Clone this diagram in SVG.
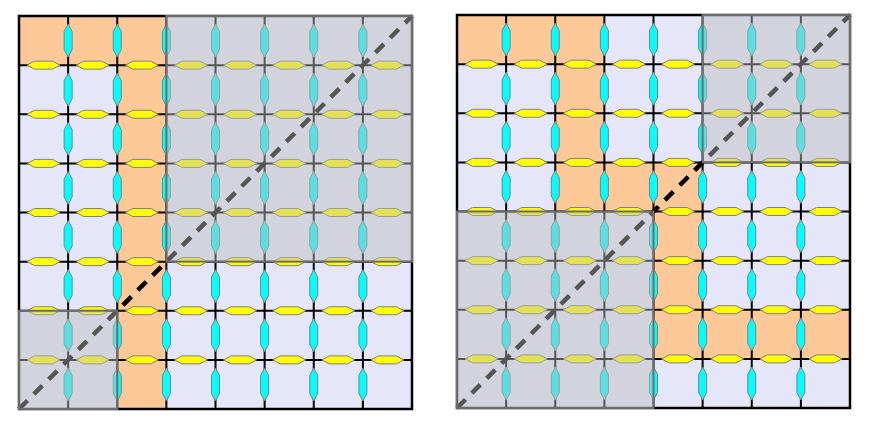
<svg xmlns="http://www.w3.org/2000/svg" xmlns:xlink="http://www.w3.org/1999/xlink" width="882" height="427" viewBox="0 0 882 427">
<style>
.bg{fill:#e6e6fa}
.or{fill:#fdc998}
.ln{stroke:#000;stroke-width:2;fill:none}
.bd{stroke:#000;stroke-width:2.5;fill:none}
.cy{fill:#00ffff;stroke:#808080;stroke-width:1}
.ye{fill:#ffff00;stroke:#808080;stroke-width:1}
.dg{stroke:#000;stroke-width:4.5;stroke-dasharray:12 9;fill:none}
.ov{fill:rgb(188,188,188);fill-opacity:0.45;stroke:#6c6c6c;stroke-width:2}
</style>
<defs>
<polygon id="hv" class="cy" points="0,-16.5 4,-9 4,9 0,16.5 -4,9 -4,-9"/>
<polygon id="hh" class="ye" points="-16.5,0 -9,-4 9,-4 16.5,0 9,4 -9,4"/>
<g id="col">
<use xlink:href="#hv" y="24.5625"/><use xlink:href="#hv" y="73.6875"/><use xlink:href="#hv" y="122.8125"/><use xlink:href="#hv" y="171.9375"/><use xlink:href="#hv" y="221.0625"/><use xlink:href="#hv" y="270.1875"/><use xlink:href="#hv" y="319.3125"/><use xlink:href="#hv" y="368.4375"/>
</g>
<g id="row">
<use xlink:href="#hh" x="24.5625"/><use xlink:href="#hh" x="73.6875"/><use xlink:href="#hh" x="122.8125"/><use xlink:href="#hh" x="171.9375"/><use xlink:href="#hh" x="221.0625"/><use xlink:href="#hh" x="270.1875"/><use xlink:href="#hh" x="319.3125"/><use xlink:href="#hh" x="368.4375"/>
</g>
<g id="net">
<path class="ln" d="M49.125 0V393M98.25 0V393M147.375 0V393M196.5 0V393M245.625 0V393M294.75 0V393M343.875 0V393M0 49.125H393M0 98.25H393M0 147.375H393M0 196.5H393M0 245.625H393M0 294.75H393M0 343.875H393"/>
<rect class="bd" x="0" y="0" width="393" height="393"/>
<use xlink:href="#col" x="49.125"/><use xlink:href="#col" x="98.25"/><use xlink:href="#col" x="147.375"/><use xlink:href="#col" x="196.5"/><use xlink:href="#col" x="245.625"/><use xlink:href="#col" x="294.75"/><use xlink:href="#col" x="343.875"/>
<use xlink:href="#row" y="49.125"/><use xlink:href="#row" y="98.25"/><use xlink:href="#row" y="147.375"/><use xlink:href="#row" y="196.5"/><use xlink:href="#row" y="245.625"/><use xlink:href="#row" y="294.75"/><use xlink:href="#row" y="343.875"/>
</g>
</defs>
<g id="grid-left" transform="translate(19,16)">
<rect class="bg" x="0" y="0" width="393" height="393"/>
<rect class="or" x="0" y="0" width="147.375" height="49.125"/>
<rect class="or" x="98.25" y="49.125" width="49.125" height="343.875"/>
<use xlink:href="#net"/>
<line class="dg" x1="0" y1="393" x2="393" y2="0"/>
<rect class="ov" x="0" y="294.75" width="98.25" height="98.25"/>
<rect class="ov" x="147.375" y="0" width="245.625" height="245.625"/>
</g>
<g id="grid-right" transform="translate(457,15)">
<rect class="bg" x="0" y="0" width="393" height="393"/>
<rect class="or" x="0" y="0" width="147.375" height="49.125"/>
<rect class="or" x="98.25" y="49.125" width="49.125" height="147.375"/>
<rect class="or" x="147.375" y="147.375" width="98.25" height="49.125"/>
<rect class="or" x="196.5" y="196.5" width="49.125" height="147.375"/>
<rect class="or" x="245.625" y="294.75" width="147.375" height="49.125"/>
<use xlink:href="#net"/>
<line class="dg" x1="0" y1="393" x2="393" y2="0"/>
<rect class="ov" x="245.625" y="0" width="147.375" height="147.375"/>
<rect class="ov" x="0" y="196.5" width="196.5" height="196.5"/>
</g>
</svg>
